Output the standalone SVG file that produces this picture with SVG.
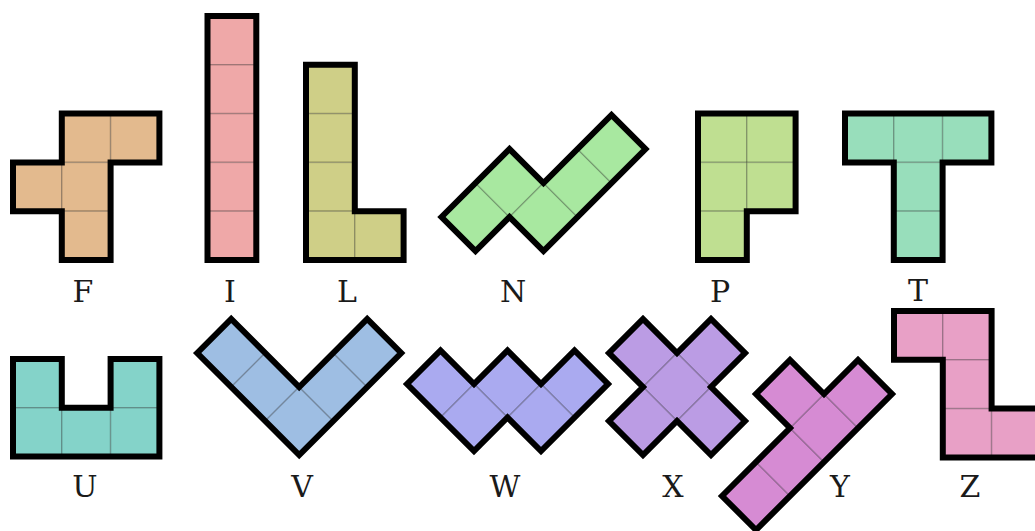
<svg xmlns="http://www.w3.org/2000/svg" width="1035" height="531" viewBox="0 0 1035 531">
<style>
.c{stroke:#000;stroke-opacity:0.22;stroke-width:1.5}
.o{fill:none;stroke:#000;stroke-width:6;stroke-linejoin:miter}
.lbl{font-family:"DejaVu Serif","Liberation Serif",serif;font-size:30px;fill:#1a1a1a;text-anchor:middle}
.F{fill:#E3BA8E}.I{fill:#EFA8A8}.L{fill:#CFCF87}.N{fill:#A8E8A0}.P{fill:#BFDF91}.T{fill:#98DEBB}
.U{fill:#84D3C9}.V{fill:#9EBEE3}.W{fill:#AAAAF0}.X{fill:#BB9CE4}.Y{fill:#D68BD3}.Z{fill:#E8A0C6}
</style>
<rect width="1035" height="531" fill="#fff"/>
<g id="F">
<rect class="c F" x="61.8" y="113.6" width="48.8" height="48.8"/>
<rect class="c F" x="110.6" y="113.6" width="48.8" height="48.8"/>
<rect class="c F" x="13" y="162.4" width="48.8" height="48.8"/>
<rect class="c F" x="61.8" y="162.4" width="48.8" height="48.8"/>
<rect class="c F" x="61.8" y="211.2" width="48.8" height="48.8"/>
<path class="o" d="M61.8,113.6H159.4V162.4H110.6V260H61.8V211.2H13V162.4H61.8Z"/>
</g>
<g id="I">
<rect class="c I" x="207.5" y="16" width="48.8" height="48.8"/>
<rect class="c I" x="207.5" y="64.8" width="48.8" height="48.8"/>
<rect class="c I" x="207.5" y="113.6" width="48.8" height="48.8"/>
<rect class="c I" x="207.5" y="162.4" width="48.8" height="48.8"/>
<rect class="c I" x="207.5" y="211.2" width="48.8" height="48.8"/>
<path class="o" d="M207.5,16H256.3V260H207.5Z"/>
</g>
<g id="L">
<rect class="c L" x="306" y="64.8" width="48.8" height="48.8"/>
<rect class="c L" x="306" y="113.6" width="48.8" height="48.8"/>
<rect class="c L" x="306" y="162.4" width="48.8" height="48.8"/>
<rect class="c L" x="306" y="211.2" width="48.8" height="48.8"/>
<rect class="c L" x="354.8" y="211.2" width="48.8" height="48.8"/>
<path class="o" d="M306,64.8H354.8V211.2H403.6V260H306Z"/>
</g>
<g id="N">
<polygon class="c N" points="441.5,217 475.5,183 509.5,217 475.5,251"/>
<polygon class="c N" points="475.5,183 509.5,149 543.5,183 509.5,217"/>
<polygon class="c N" points="509.5,217 543.5,183 577.5,217 543.5,251"/>
<polygon class="c N" points="543.5,183 577.5,149 611.5,183 577.5,217"/>
<polygon class="c N" points="577.5,149 611.5,115 645.5,149 611.5,183"/>
<path class="o" d="M441.5,217L509.5,149L543.5,183L611.5,115L645.5,149L543.5,251L509.5,217L475.5,251Z"/>
</g>
<g id="P">
<rect class="c P" x="698" y="113.6" width="48.8" height="48.8"/>
<rect class="c P" x="746.8" y="113.6" width="48.8" height="48.8"/>
<rect class="c P" x="698" y="162.4" width="48.8" height="48.8"/>
<rect class="c P" x="746.8" y="162.4" width="48.8" height="48.8"/>
<rect class="c P" x="698" y="211.2" width="48.8" height="48.8"/>
<path class="o" d="M698,113.6H795.6V211.2H746.8V260H698Z"/>
</g>
<g id="T">
<rect class="c T" x="845" y="113.6" width="48.8" height="48.8"/>
<rect class="c T" x="893.8" y="113.6" width="48.8" height="48.8"/>
<rect class="c T" x="942.6" y="113.6" width="48.8" height="48.8"/>
<rect class="c T" x="893.8" y="162.4" width="48.8" height="48.8"/>
<rect class="c T" x="893.8" y="211.2" width="48.8" height="48.8"/>
<path class="o" d="M845,113.6H991.4V162.4H942.6V260H893.8V162.4H845Z"/>
</g>
<g id="U">
<rect class="c U" x="13" y="359" width="48.8" height="48.8"/>
<rect class="c U" x="110.6" y="359" width="48.8" height="48.8"/>
<rect class="c U" x="13" y="407.8" width="48.8" height="48.8"/>
<rect class="c U" x="61.8" y="407.8" width="48.8" height="48.8"/>
<rect class="c U" x="110.6" y="407.8" width="48.8" height="48.8"/>
<path class="o" d="M13,359H61.8V407.8H110.6V359H159.4V456.6H13Z"/>
</g>
<g id="V">
<polygon class="c V" points="197.2,353 231.2,319 265.2,353 231.2,387"/>
<polygon class="c V" points="231.2,387 265.2,353 299.2,387 265.2,421"/>
<polygon class="c V" points="265.2,421 299.2,387 333.2,421 299.2,455"/>
<polygon class="c V" points="299.2,387 333.2,353 367.2,387 333.2,421"/>
<polygon class="c V" points="333.2,353 367.2,319 401.2,353 367.2,387"/>
<path class="o" d="M197.2,353L231.2,319L299.2,387L367.2,319L401.2,353L299.2,455Z"/>
</g>
<g id="W">
<polygon class="c W" points="407,384 440.5,350.5 474,384 440.5,417.5"/>
<polygon class="c W" points="474,384 507.5,350.5 541,384 507.5,417.5"/>
<polygon class="c W" points="541,384 574.5,350.5 608,384 574.5,417.5"/>
<polygon class="c W" points="440.5,417.5 474,384 507.5,417.5 474,451"/>
<polygon class="c W" points="507.5,417.5 541,384 574.5,417.5 541,451"/>
<path class="o" d="M407,384L440.5,350.5L474,384L507.5,350.5L541,384L574.5,350.5L608,384L541,451L507.5,417.5L474,451Z"/>
</g>
<g id="X">
<polygon class="c X" points="609,353 643,319 677,353 643,387"/>
<polygon class="c X" points="677,353 711,319 745,353 711,387"/>
<polygon class="c X" points="643,387 677,353 711,387 677,421"/>
<polygon class="c X" points="609,421 643,387 677,421 643,455"/>
<polygon class="c X" points="677,421 711,387 745,421 711,455"/>
<path class="o" d="M609,353L643,319L677,353L711,319L745,353L711,387L745,421L711,455L677,421L643,455L609,421L643,387Z"/>
</g>
<g id="Y">
<polygon class="c Y" points="722,496 756,462 790,496 756,530"/>
<polygon class="c Y" points="756,462 790,428 824,462 790,496"/>
<polygon class="c Y" points="790,428 824,394 858,428 824,462"/>
<polygon class="c Y" points="824,394 858,360 892,394 858,428"/>
<polygon class="c Y" points="756,394 790,360 824,394 790,428"/>
<path class="o" d="M722,496L790,428L756,394L790,360L824,394L858,360L892,394L756,530Z"/>
</g>
<g id="Z">
<rect class="c Z" x="894" y="311" width="48.8" height="48.8"/>
<rect class="c Z" x="942.8" y="311" width="48.8" height="48.8"/>
<rect class="c Z" x="942.8" y="359.8" width="48.8" height="48.8"/>
<rect class="c Z" x="942.8" y="408.6" width="48.8" height="48.8"/>
<rect class="c Z" x="991.6" y="408.6" width="48.8" height="48.8"/>
<path class="o" d="M894,311H991.6V408.6H1040.4V457.4H942.8V359.8H894Z"/>
</g>
<g id="labels">
<text class="lbl" x="83" y="302">F</text>
<text class="lbl" x="230" y="302">I</text>
<text class="lbl" x="347" y="302">L</text>
<text class="lbl" x="513" y="302">N</text>
<text class="lbl" x="720" y="302">P</text>
<text class="lbl" x="918" y="301">T</text>
<text class="lbl" x="85" y="497">U</text>
<text class="lbl" x="302" y="497">V</text>
<text class="lbl" x="505" y="497">W</text>
<text class="lbl" x="673" y="497">X</text>
<text class="lbl" x="840" y="497">Y</text>
<text class="lbl" x="970" y="497">Z</text>
</g>
</svg>
